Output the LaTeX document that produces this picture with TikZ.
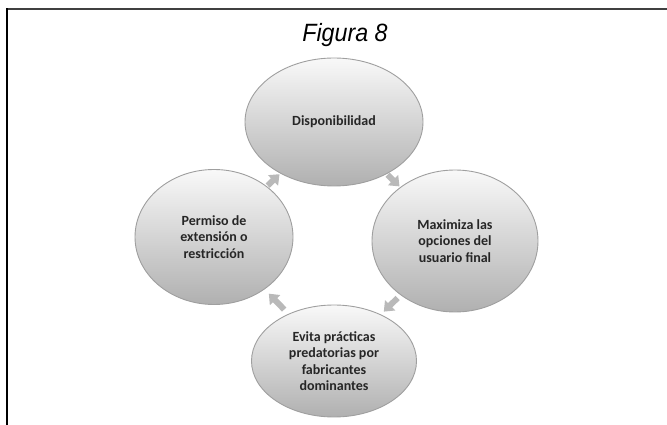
\documentclass[tikz,border=0pt]{standalone}
\usepackage{fontspec}
\setmainfont{Carlito}
\newfontfamily\captionfont[FakeStretch=0.93]{Liberation Sans}
\usetikzlibrary{shapes.geometric,arrows.meta}
\tikzset{
  bubble/.style={ellipse,draw=gray!75,line width=0.9bp,top color=gray!5,bottom color=gray!62,
    text=black!85,font=\bfseries\fontsize{14bp}{16.5bp}\selectfont,align=center,inner sep=0pt},
  cyclearrow/.style={draw=gray!55,line width=6bp,-{Triangle[length=9bp,width=14bp]},
    shorten <=1bp,shorten >=1bp},
}
\begin{document}
\begin{tikzpicture}[line join=bevel,]
\useasboundingbox (0bp,0bp) rectangle (667bp,425bp);
%%
\draw [black!75,line width=1.5bp] (7bp,416bp) -- (667bp,416bp);
\draw [black,line width=1.2bp] (7bp,416.7bp) -- (7bp,0bp);
\node (fig_title) at (345bp,383bp) [anchor=base] {\captionfont\itshape\fontsize{25bp}{30bp}\selectfont Figura 8};
%
\node (n_top) at (334bp,303bp) [bubble,minimum width=178bp,minimum height=128bp] {Disponibilidad};
  \node (n_right) at (455bp,184bp) [bubble,minimum width=166bp,minimum height=142bp] {Maximiza las\\opciones del\\usuario final};
  \node (n_bottom) at (334bp,64bp) [bubble,minimum width=165bp,minimum height=112bp] {Evita prácticas\\predatorias por\\fabricantes\\dominantes};
  \node (n_left) at (214bp,188bp) [bubble,minimum width=158bp,minimum height=135bp] {Permiso de\\extensión o\\restricción};
  \draw [cyclearrow] (n_top) -- (n_right);
  \draw [cyclearrow,shorten <=4bp,shorten >=4bp] (n_right) -- (n_bottom);
  \draw [cyclearrow,shorten <=6bp,shorten >=6bp] (n_bottom) -- (n_left);
  \draw [cyclearrow] (n_left) -- (n_top);
%
\end{tikzpicture}
\end{document}
